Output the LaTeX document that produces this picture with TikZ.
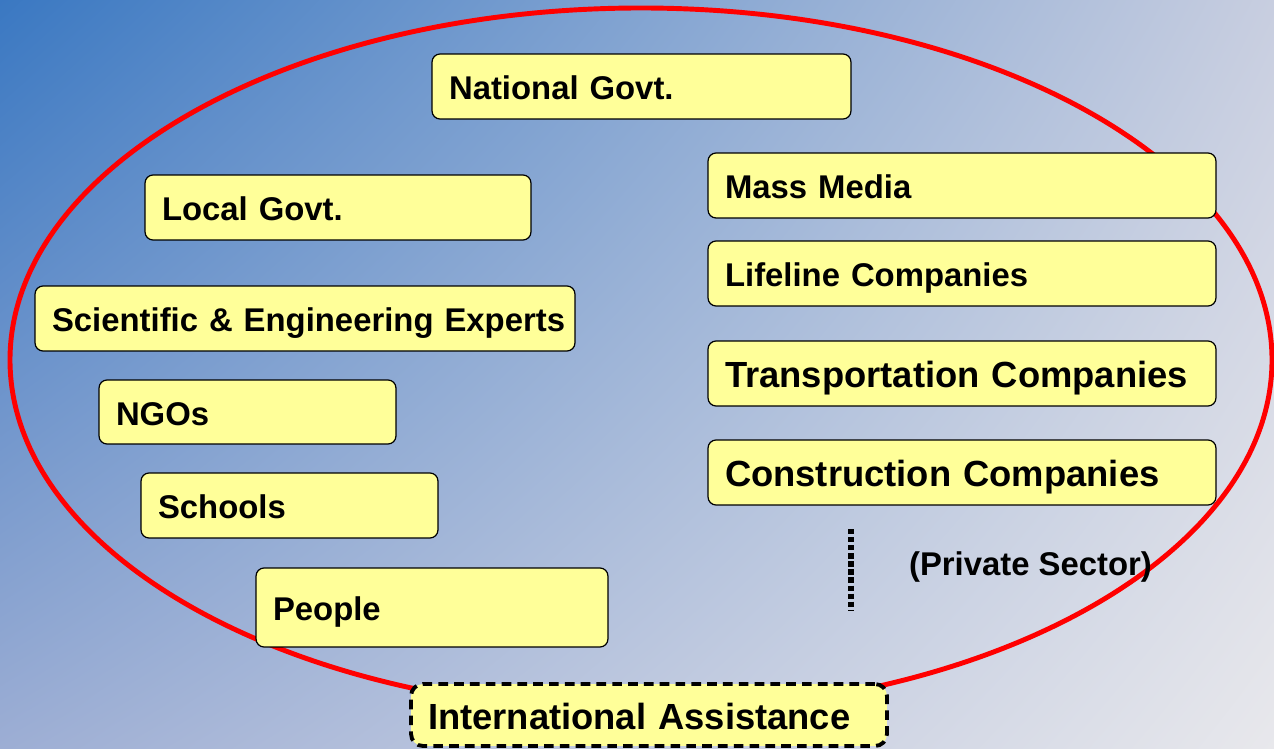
\documentclass[tikz,border=0pt]{standalone}
\usepackage{fontspec}
\setmainfont{Liberation Sans}
\usetikzlibrary{shadings}
\definecolor{boxfill}{HTML}{FFFF99}
\definecolor{ringred}{HTML}{FF0000}
\definecolor{bgTL}{HTML}{3A78C2}
\definecolor{bgTR}{HTML}{C8CEE0}
\definecolor{bgBL}{HTML}{9DAED4}
\definecolor{bgBR}{HTML}{E8E8EC}
\tikzset{
  actor/.style={draw=black, line width=0.7pt, fill=boxfill, rounded corners=0.16cm,
    inner xsep=0.34cm, inner ysep=0pt, align=left, anchor=center,
    text height=15.0pt, text depth=0pt,
    font=\fontsize{18.7}{22}\selectfont\bfseries},
  bigtext/.style={font=\fontsize{20.7}{24}\selectfont\bfseries, text height=16.4pt},
  intlbox/.style={actor, bigtext, dashed, line width=2.2pt, dash pattern=on 5.5pt off 3.5pt, rounded corners=0.24cm},
  ring/.style={draw=ringred, line width=2.8pt},
  dots/.style={line width=3pt, dash pattern=on 3pt off 1.6pt},
  plain/.style={font=\fontsize{18.7}{22}\selectfont\bfseries, inner sep=0pt}
}
\begin{document}
\begin{tikzpicture}[x=0.02cm,y=-0.02cm]
\useasboundingbox (0,0) rectangle (1274,749);
\shade[upper left=bgTL, upper right=bgTR, lower left=bgBL, lower right=bgBR] (0,0) rectangle (1274,749);
\draw[ring] (641,360) ellipse [x radius=631, y radius=352];
% boxes: width w -> text width = w*0.02cm - 0.68cm
\node[actor, minimum height=1.3cm, text width=7.70cm] (nat) at (641.5,86.5) {National Govt.};
\node[actor, minimum height=1.3cm, text width=9.48cm] (media) at (962,185.5) {Mass Media};
\node[actor, minimum height=1.3cm, text width=7.04cm] (local) at (338,207.5) {Local Govt.};
\node[actor, minimum height=1.3cm, text width=9.48cm] (life) at (962,273.5) {Lifeline Companies};
\node[actor, minimum height=1.3cm, text width=10.12cm] (sci) at (305,318.5) {\mbox{Scientific \& Engineering Experts}};
\node[actor, bigtext, minimum height=1.3cm, text width=9.48cm] (trans) at (962,373.5) {\mbox{Transportation Companies}};
\node[actor, minimum height=1.28cm, text width=5.26cm] (ngo) at (247.5,412) {NGOs};
\node[actor, bigtext, minimum height=1.3cm, text width=9.48cm] (cons) at (962,472.5) {\mbox{Construction Companies}};
\node[actor, minimum height=1.3cm, text width=5.26cm] (school) at (289.5,505.5) {Schools};
\node[actor, minimum height=1.58cm, text width=6.36cm] (people) at (432,607.5) {People};
\node[intlbox, minimum height=1.24cm, text width=8.84cm] (intl) at (649,715) {\mbox{International Assistance}};
\coordinate (dtop) at (851,529);
\coordinate (dbot) at (851,611);
\draw[dots] (dtop) -- (dbot);
\node[plain] (priv) at (1030.5,567) {(Private Sector)};
\end{tikzpicture}
\end{document}
